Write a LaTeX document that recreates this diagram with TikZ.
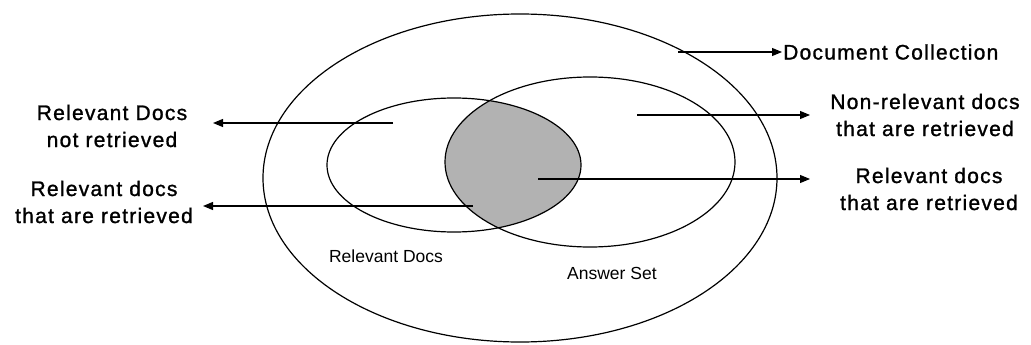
\documentclass[tikz,border=0pt]{standalone}
\usepackage{fontspec}
\setmainfont{Liberation Sans}
\newfontfamily\labelfont[LetterSpace=6,FakeBold=1.2]{Liberation Sans}
\usetikzlibrary{arrows.meta}
\definecolor{blobgray}{RGB}{178,178,178}
\tikzset{
  curve/.style={line width=1.2pt, black},
  pointer/.style={line width=1.1pt, -{Triangle[length=10pt,width=8pt]}},
  biglabel/.style={align=center, inner sep=0pt, font=\labelfont\fontsize{21}{27}\selectfont},
  smalllabel/.style={inner sep=0pt, font=\fontsize{17.5}{20}\selectfont},
}
\begin{document}
\begin{tikzpicture}[x=1pt,y=-1pt]
\useasboundingbox (0,0) rectangle (1031,345);
% shaded intersection
\begin{scope}
  \clip (454,165) ellipse [x radius=127, y radius=67];
  \fill[blobgray] (590,162) ellipse [x radius=145, y radius=85];
\end{scope}
% ellipses
\draw[curve] (520,178) ellipse [x radius=257, y radius=164];
\draw[curve] (454,165) ellipse [x radius=127, y radius=67];
\draw[curve] (590,162) ellipse [x radius=145, y radius=85];
% labels
\node[biglabel, anchor=west] (dc) at (783,52) {Document Collection};
\node[biglabel] (nr) at (925,115) {Non-relevant docs\\that are retrieved};
\node[biglabel] (rrr) at (929,189) {Relevant docs\\that are retrieved};
\node[biglabel] (rnr) at (112,126) {Relevant Docs\\not retrieved};
\node[biglabel] (rrl) at (104,202) {Relevant docs\\that are retrieved};
\node[smalllabel] (rd) at (386,256) {Relevant Docs};
\node[smalllabel, anchor=west] (as) at (567,273) {Answer Set};
% connector ends
\coordinate (dcs) at (678,52);
\coordinate (dct) at (782,52);
\coordinate (nrs) at (637,115);
\coordinate (nrt) at (810,115);
\coordinate (rrrs) at (538,179);
\coordinate (rrrt) at (810,179);
\coordinate (rnrs) at (393,123);
\coordinate (rnrt) at (213,123);
\coordinate (rrls) at (473,206);
\coordinate (rrlt) at (203,206);
% connectors
\draw[pointer] (dcs) -- (dct);
\draw[pointer] (nrs) -- (nrt);
\draw[pointer] (rrrs) -- (rrrt);
\draw[pointer] (rnrs) -- (rnrt);
\draw[pointer] (rrls) -- (rrlt);
\end{tikzpicture}
\end{document}
